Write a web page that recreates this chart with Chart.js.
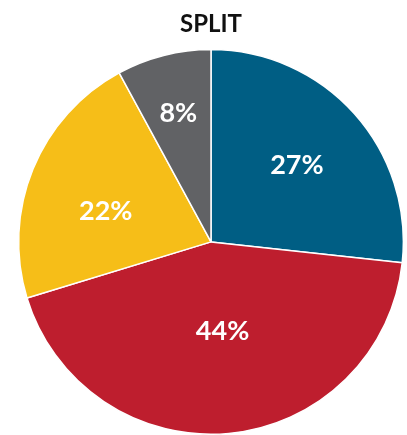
<!DOCTYPE html>
<html>
<head>
<meta charset="utf-8">
<script src="https://cdn.jsdelivr.net/npm/chart.js@4"></script>
<style>
  html, body { margin: 0; padding: 0; background: #fff; }
  #wrap { width: 407px; height: 435px; }
</style>
</head>
<body>
<div id="wrap"><canvas id="pieCanvas"></canvas></div>
<script>
  // === Data ===
  const categories = ['Blue', 'Red', 'Yellow', 'Gray'];
  const shares = [27, 44, 22, 8];
  const shareLabels = ['27%', '44%', '22%', '8%'];
  const sliceColors = ['#005E84', '#BE1E2E', '#F6BE18', '#616265'];

  // label placement: fraction of radius, and a small angle nudge (degrees)
  const labelRadius = [0.60, 0.47, 0.57, 0.69];
  const labelNudge = [0, -2, -6, 0];

  const sliceLabels = {
    id: 'sliceLabels',
    afterDatasetsDraw(chart) {
      const c = chart.ctx;
      const meta = chart.getDatasetMeta(0);
      c.save();
      c.fillStyle = '#fff';
      c.font = 'bold 27px Lato, "Open Sans", sans-serif';
      c.textAlign = 'center';
      c.textBaseline = 'middle';
      meta.data.forEach((arc, i) => {
        const mid = (arc.startAngle + arc.endAngle) / 2 + labelNudge[i] * Math.PI / 180;
        const r = arc.outerRadius * labelRadius[i];
        c.fillText(shareLabels[i], arc.x + Math.cos(mid) * r, arc.y + Math.sin(mid) * r);
      });
      c.restore();
    }
  };

  const ctx = document.getElementById('pieCanvas').getContext('2d');
  new Chart(ctx, {
    type: 'pie',
    data: {
      labels: categories,
      datasets: [{
        data: shares,
        backgroundColor: sliceColors,
        borderColor: '#fff',
        borderWidth: 1.5
      }]
    },
    options: {
      responsive: true,
      maintainAspectRatio: false,
      animation: false,
      layout: { padding: { left: 15, right: 0, top: 0, bottom: 0 } },
      plugins: {
        legend: { display: false },
        tooltip: { enabled: false },
        title: {
          display: true,
          text: 'SPLIT',
          color: '#111',
          font: { family: 'Lato, "Open Sans", sans-serif', size: 24, weight: 'bold', lineHeight: 1.2 },
          padding: { top: 10, bottom: 10 }
        }
      }
    },
    plugins: [sliceLabels]
  });
</script>
</body>
</html>
